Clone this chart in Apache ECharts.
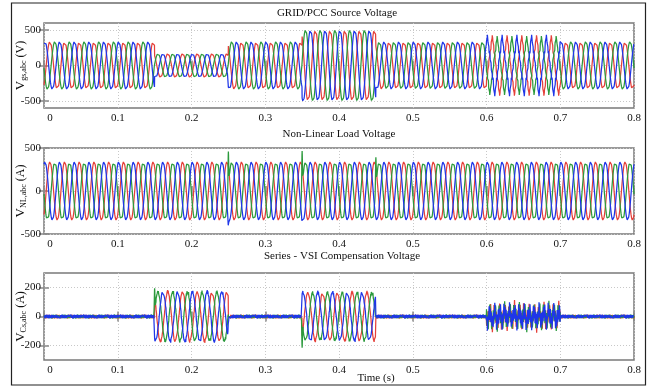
<!DOCTYPE html>
<html><head><meta charset="utf-8">
<script src="https://cdn.jsdelivr.net/npm/echarts@6/dist/echarts.min.js"></script>
<style>html,body{margin:0;padding:0;background:#fff}#c{width:649px;height:386px}</style>
</head><body><div id="c"></div>
<script>
// ---- data ----
const timeRange = [0, 0.8];
const timeTicks = [0, 0.1, 0.2, 0.3, 0.4, 0.5, 0.6, 0.7, 0.8];
const fundamentalHz = 50;
const sampleStep = 0.0002;
const phaseNames = ['a', 'b', 'c'];
const phaseColors = ['#e5403a', '#2b9a3c', '#1f36e8'];
const segmentBounds = [0, 0.15, 0.25, 0.35, 0.45, 0.6, 0.7, 0.8];
const gridFundAmp = [340, 170, 340, 505, 340, 340, 340];   // V peak per segment
const harmonicOrders = [3, 5, 13];
const gridHarmonicAmp = [   // per segment, amplitude of each harmonic order
  [0, 0, 0], [0, 0, 0], [0, 0, 0], [0, 0, 0], [0, 0, 0], [-36, 20, 45], [0, 0, 0]
];
const loadAmp = 340;
const compRippleAmp = 13;
const loadSpikes = [[0.25, 1, 460], [0.25, 2, -410], [0.35, 1, 465], [0.35, 2, -375], [0.45, 1, 392]];
const compSpikes = [[0.15, 1, 195], [0.35, 1, -215], [0.25, 2, -40]];
const plotTitles = ['GRID/PCC Source Voltage', 'Non-Linear Load Voltage', 'Series - VSI Compensation Voltage'];
const yRanges = [[-600, 600], [-500, 500], [-300, 300]];
const yTickValues = [[-500, 0, 500], [-500, 0, 500], [-200, 0, 200]];
const ySubscripts = ['gs,abc', 'NL,abc', 'Cs,abc'];
const yUnits = ['(V)', '(A)', '(A)'];
const xTitle = 'Time (s)';

// ---- build waveforms ----
const phaseOffset = [-0.94, -0.94 - 2 * Math.PI / 3, -0.94 + 2 * Math.PI / 3];
function segIndex(t) {
  for (let i = segmentBounds.length - 2; i >= 0; i--) if (t >= segmentBounds[i]) return i;
  return 0;
}
function applySpikes(v, t, k, spikes) {
  for (const [t0, ph, target] of spikes) {
    if (ph !== k) continue;
    const g = Math.exp(-Math.pow((t - t0) / 0.0006, 2));
    v = v + (target - v) * g;
  }
  return v;
}
const nSamples = Math.round((timeRange[1] - timeRange[0]) / sampleStep);
const gridData = [[], [], []], loadData = [[], [], []], compData = [[], [], []];
for (let i = 0; i <= nSamples; i++) {
  const t = +(i * sampleStep).toFixed(6);
  const th = 2 * Math.PI * fundamentalHz * t;
  const s = segIndex(t);
  for (let k = 0; k < 3; k++) {
    const a = th + phaseOffset[k];
    let g = gridFundAmp[s] * Math.sin(a);
    for (let h = 0; h < harmonicOrders.length; h++) g += gridHarmonicAmp[s][h] * Math.sin(harmonicOrders[h] * a);
    const nominal = loadAmp * Math.sin(a);
    const l = applySpikes(nominal, t, k, loadSpikes);
    let c = nominal - g + compRippleAmp * Math.sin(2 * Math.PI * 1150 * t + k * 2.1) * Math.cos(2 * Math.PI * 170 * t + k);
    c = applySpikes(c, t, k, compSpikes);
    gridData[k].push([t, g]);
    loadData[k].push([t, l]);
    compData[k].push([t, c]);
  }
}
const allData = [gridData, loadData, compData];

// ---- chart ----
const FONT = 'Liberation Serif';
const FS = 11;
const gridsPos = [{top: 23, height: 85}, {top: 148, height: 86}, {top: 273, height: 87}];
const grids = gridsPos.map(p => ({left: 44, right: 15, top: p.top, height: p.height, show: true,
  containLabel: false, outerBoundsMode: 'none',
  borderColor: '#7a7a7a', borderWidth: 1.5, backgroundColor: '#fff'}));
const xAxes = [], yAxes = [], series = [];
for (let p = 0; p < 3; p++) {
  xAxes.push({type: 'value', gridIndex: p, min: timeRange[0], max: timeRange[1], interval: 0.1,
    axisLine: {show: false},
    axisTick: {inside: true, length: 5, lineStyle: {color: '#888', width: 1.5}},
    axisLabel: {margin: 5, fontFamily: FONT, fontSize: FS, color: '#111',
      formatter: v => (v === 0 ? '{z|0}' : String(+v.toFixed(1))),
      rich: {z: {padding: [0, 0, 0, 12], fontFamily: FONT, fontSize: FS, color: '#111'}}},
    splitLine: {show: true, lineStyle: {color: '#c8c8c8', type: [1, 2], width: 1}}});
  yAxes.push({type: 'value', gridIndex: p, min: yRanges[p][0], max: yRanges[p][1],
    axisLine: {show: false},
    axisTick: {inside: true, length: 5, customValues: yTickValues[p], lineStyle: {color: '#888', width: 1.5}},
    axisLabel: {margin: 3, customValues: yTickValues[p], fontFamily: FONT, fontSize: FS, color: '#111'},
    splitLine: {show: true, lineStyle: {color: '#c8c8c8', type: [1, 2], width: 1}},
    name: '{v|V}{s|' + ySubscripts[p] + '}{u| ' + yUnits[p] + '}',
    nameLocation: 'middle', nameGap: 16, nameRotate: 90, nameMoveOverlap: false,
    nameTextStyle: {fontFamily: FONT, fontSize: 12, color: '#111',
      rich: {v: {fontFamily: FONT, fontSize: 13, color: '#111', lineHeight: 15},
             s: {fontFamily: FONT, fontSize: 8, color: '#111', verticalAlign: 'bottom', lineHeight: 10, padding: [5, 0, 0, 0]},
             u: {fontFamily: FONT, fontSize: 12, color: '#111', lineHeight: 15}}}});
}
for (let p = 0; p < 3; p++) {
  xAxes.push({type: 'value', gridIndex: p, position: 'top', min: timeRange[0], max: timeRange[1], interval: 0.1,
    axisLine: {show: false}, axisLabel: {show: false}, splitLine: {show: false},
    axisTick: {inside: true, length: 5, lineStyle: {color: '#888', width: 1.5}}});
  yAxes.push({type: 'value', gridIndex: p, position: 'right', min: yRanges[p][0], max: yRanges[p][1],
    axisLine: {show: false}, axisLabel: {show: false}, splitLine: {show: false},
    axisTick: {inside: true, length: 5, customValues: yTickValues[p], lineStyle: {color: '#888', width: 1.5}}});
}
for (let p = 0; p < 3; p++) {
  for (let k = 0; k < 3; k++) {
    series.push({type: 'line', name: plotTitles[p] + ' ' + phaseNames[k], xAxisIndex: p, yAxisIndex: p,
      data: allData[p][k], showSymbol: false, symbol: 'none', silent: true, clip: true,
      lineStyle: {color: phaseColors[k], width: 1.25}, z: 2 + k});
  }
}
const titleCenters = [[337, 8], [339, 129], [342, 251]];
const titles = plotTitles.map((t, i) => ({text: t, left: titleCenters[i][0], top: titleCenters[i][1], textAlign: 'center',
  padding: 0, textStyle: {fontFamily: FONT, fontSize: FS, fontWeight: 'normal', color: '#111'}}));

const chart = echarts.init(document.getElementById('c'), null, {renderer: 'canvas'});
chart.setOption({
  animation: false,
  backgroundColor: '#fff',
  title: titles,
  grid: grids,
  xAxis: xAxes,
  yAxis: yAxes,
  series: series,
  graphic: [
    {type: 'rect', shape: {x: 11.5, y: 3, width: 634, height: 382}, style: {fill: null, stroke: '#222', lineWidth: 1.2}, z: -1, silent: true},
    {type: 'text', x: 376, y: 378, style: {text: xTitle, fontFamily: FONT, fontSize: FS, fill: '#111', align: 'center', verticalAlign: 'middle'}}
  ]
});
</script></body></html>
